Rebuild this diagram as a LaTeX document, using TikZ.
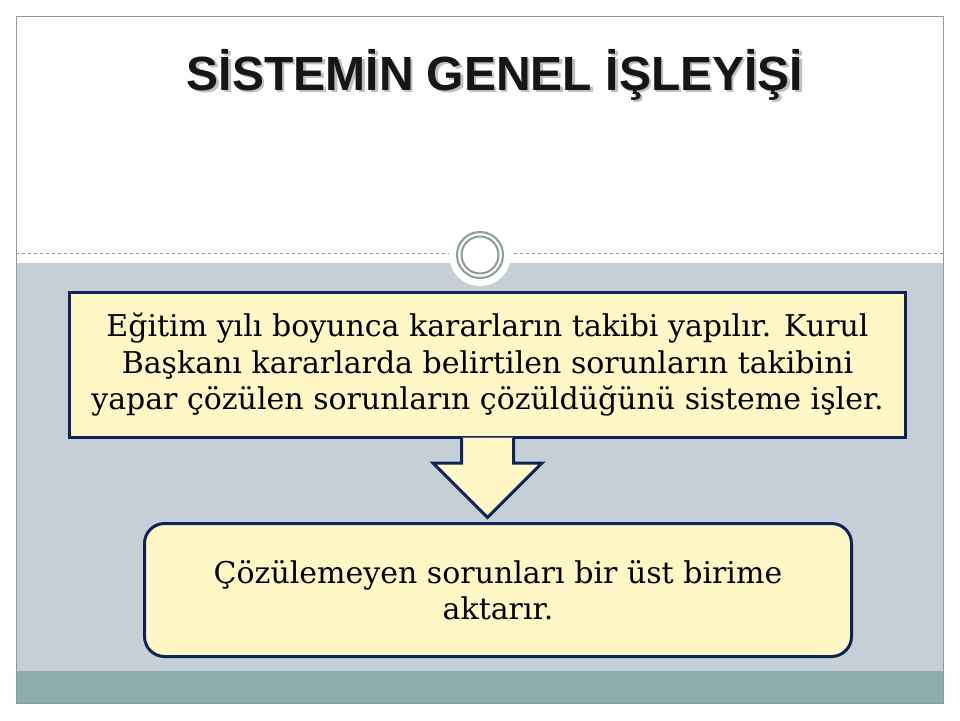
\documentclass[tikz,border=0pt]{standalone}
\usepackage{fontspec}
\setmainfont{DejaVu Serif}
\newfontfamily\titlefont{Liberation Sans}
\usetikzlibrary{positioning,calc}

\definecolor{navy}{HTML}{0E2356}
\definecolor{paleyellow}{HTML}{FFF8C6}
\definecolor{slate}{HTML}{C6CFD6}
\definecolor{sea}{HTML}{8AACAC}
\definecolor{framegrey}{HTML}{8C9C99}
\definecolor{titleblack}{HTML}{161616}

\begin{document}
\begin{tikzpicture}[x=1pt,y=-1pt]
    \tikzset{block/.style= {draw=navy, line width=3pt
    , fill=paleyellow
    , align=center
    , font=\fontsize{30}{36.5}\selectfont
      }
    , titletext/.style={anchor=base, font=\titlefont\bfseries\fontsize{48}{48}\selectfont}
    }
\useasboundingbox (0,0) rectangle (960,720);
\fill[white] (0,0) rectangle (960,720);

% slide background
\fill[slate] (16,263) rectangle (943,671);
\fill[sea] (16,671) rectangle (943,703);
\draw[framegrey] (16,16) rectangle (943,703);
\draw[framegrey, dashed] (16,253) -- (943,253);
\fill[white] (480,255) circle (31);
\draw[framegrey, line width=2pt] (480,255) circle (23) (480,255) circle (18.5);

\node [titletext, text=black!25] at (497.5,92.5) {SİSTEMİN GENEL İŞLEYİŞİ};
\node [titletext, text=titleblack] (title) at (495,90) {SİSTEMİN GENEL İŞLEYİŞİ};

\node [block, minimum width=836pt, minimum height=145pt] (kurul) at (487.5,365)
  {Eğitim yılı boyunca kararların takibi yapılır. Kurul\\
   Başkanı kararlarda belirtilen sorunların takibini\\
   yapar çözülen sorunların çözüldüğünü sisteme işler.};
\node [block, rounded corners=20pt, minimum width=707pt, minimum height=133pt,
  below=83pt of kurul, xshift=10.5pt] (aktar)
  {Çözülemeyen sorunları bir üst birime\\ aktarır.};

 \path[draw=navy, line width=3pt, fill=paleyellow]
  ($(kurul.south)+(-26,-1.5)$) -- ++(0,25.5) -- ++(-28.5,0)
  -- ($(kurul.south |- aktar.north)+(0,-4.5)$)
  -- ($(kurul.south)+(54.5,24)$) -- ++(-28.5,0) -- ($(kurul.south)+(26,-1.5)$);
\end{tikzpicture}
\end{document}
